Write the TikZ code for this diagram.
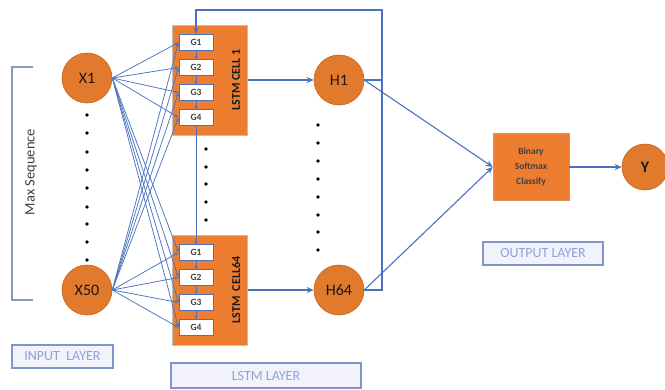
\documentclass[tikz,border=0pt]{standalone}
\usepackage{fontspec}
\setmainfont{Carlito}
\usetikzlibrary{arrows.meta}
\definecolor{lineblue}{HTML}{4A72C0}
\definecolor{orangefill}{HTML}{ED7D31}
\definecolor{ballfill}{HTML}{E27A2E}
\definecolor{balledge}{HTML}{C4641F}
\definecolor{labelblue}{HTML}{7F96C9}
\definecolor{labeltext}{HTML}{8FA3D6}
\definecolor{labelfill}{HTML}{F2F2FA}
\definecolor{bracketcol}{HTML}{8A9AB8}
\tikzset{
  neuron/.style={circle, minimum size=50pt, inner sep=0pt, fill=ballfill, draw=balledge, line width=0.6pt, font=\fontsize{16}{16}\selectfont, text=black!90},
  cellbox/.style={rectangle, minimum width=75pt, minimum height=110pt, fill=orangefill, draw=black!25, line width=1pt},
  gatebox/.style={rectangle, minimum width=34pt, minimum height=16pt, inner sep=0pt, fill=white, draw=lineblue, line width=1pt, font=\bfseries\fontsize{9.5}{9.5}\selectfont, text=black!75},
  celltext/.style={rotate=90, font=\bfseries\fontsize{12}{12}\selectfont, text=black!90},
  layerbox/.style={rectangle, inner sep=0pt, fill=labelfill, draw=labelblue, line width=1.2pt, font=\fontsize{14}{14}\selectfont, text=labeltext},
  conn/.style={draw=lineblue, line width=0.75pt, -{Stealth[length=4pt,width=3pt]}},
  link/.style={draw=lineblue, line width=1.1pt},
  arrowlink/.style={draw=lineblue, line width=1.1pt, -{Stealth[length=7pt,width=6pt]}},
  smallarrow/.style={draw=lineblue, line width=0.8pt, -{Stealth[length=3pt,width=3pt]}},
  dot/.style={circle, fill=black, inner sep=0pt, minimum size=3.8pt}
}
\begin{document}
\begin{tikzpicture}[x=1pt,y=-1pt]
\useasboundingbox (0,0) rectangle (665,389);

% input neurons
\node[neuron] (x1) at (87,78) {X1};
\node[neuron] (x50) at (87,290) {X50};
\foreach \yy [count=\i] in {115,133,152,170,188,207,224,242,260}
  \node[dot] (xd\i) at (87,\yy) {};

% sequence bracket
\draw[bracketcol, line width=1.2pt] (33,67) -- (12,67) -- (12,300) -- (33,300);
\node[rotate=90, font=\fontsize{14.5}{14.5}\selectfont, text=black!75] (maxseq) at (31,172) {Max Sequence};

% LSTM cells with their gates
\node[cellbox] (c1) at (209.5,80) {};
\node[cellbox] (c64) at (209.5,290) {};
\foreach \k/\yy in {1/42.5,2/67.5,3/92.5,4/117.5}
  \node[gatebox] (ga\k) at (196,\yy) {G\k};
\foreach \k/\yy in {1/252.5,2/277.5,3/302.5,4/327.5}
  \node[gatebox] (gb\k) at (196,\yy) {G\k};
\node[celltext] (t1) at (236,80) {LSTM CELL 1};
\node[celltext] (t64) at (236,290) {LSTM \ CELL64};

\foreach \a/\b in {1/2,2/3,3/4} {
  \draw[smallarrow] (ga\a.south) -- (ga\b.north);
  \draw[smallarrow] (gb\a.south) -- (gb\b.north);
}
\draw[smallarrow] (ga4.south) -- (gb1.north);
\foreach \yy [count=\i] in {149,167,184,202,220}
  \node[dot] (cd\i) at (206,\yy) {};

% inputs feed every gate
\foreach \k in {1,...,4} {
  \draw[conn] (x1.east) -- (ga\k.west);
  \draw[conn] (x1.east) -- (gb\k.west);
  \draw[conn] (x50.east) -- (ga\k.west);
  \draw[conn] (x50.east) -- (gb\k.west);
}

% hidden states
\node[neuron] (h1) at (339,80) {H1};
\node[neuron] (h64) at (339,290) {H64};
\foreach \yy [count=\i] in {125,143,161,179,197,215,232,250}
  \node[dot] (hd\i) at (318,\yy) {};
\draw[arrowlink] (c1.east) -- (h1.west);
\draw[arrowlink] (c64.east) -- (h64.west);

% recurrent feedback
\coordinate (fb) at (382,10);
\draw[link] (h1.east) -- (h1.east -| fb);
\draw[link, -{Stealth[length=6pt,width=5pt]}] (h64.east) -| (fb) -| (ga1.north);

% output stage
\node[rectangle, minimum width=76pt, minimum height=67pt, fill=orangefill, draw=balledge!70, line width=0.6pt,
      align=center, font=\bfseries\fontsize{9.5}{15}\selectfont, text=black!75] (cls) at (531,167)
      {Binary\\Softmax\\Classify};
\draw[arrowlink] (h1.east) -- (cls.west);
\draw[arrowlink] (h64.east) -- (cls.west);
\node[neuron, minimum size=46pt] (y) at (645,167) {\bfseries Y};
\draw[arrowlink] (cls.east) -- (y.west);

% layer labels
\node[layerbox, minimum width=101pt, minimum height=23pt] (inl) at (62.5,356.5) {INPUT \ LAYER};
\node[layerbox, minimum width=190pt, minimum height=25pt] (lstml) at (266,375.5) {LSTM LAYER};
\node[layerbox, minimum width=120pt, minimum height=23pt] (outl) at (543,253.5) {OUTPUT LAYER};
\end{tikzpicture}
\end{document}
